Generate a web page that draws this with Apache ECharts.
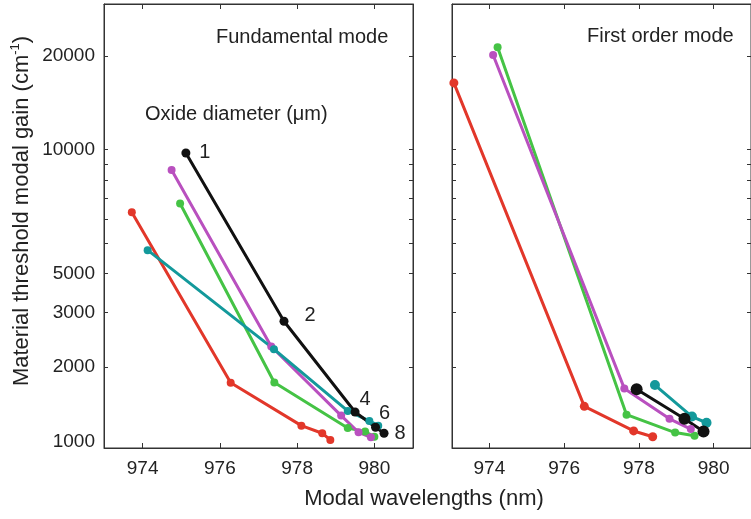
<!DOCTYPE html>
<html>
<head>
<meta charset="utf-8">
<script src="https://cdn.jsdelivr.net/npm/echarts@6/dist/echarts.min.js"></script>
<style>
html, body { margin: 0; padding: 0; background: #fff; }
#main { width: 751px; height: 519px; }
</style>
</head>
<body>
<div id="main"></div>
<script>
// oxide diameters (um) labelled on the black curve
var oxideDiameters = [1, 2, 4, 6, 8];

// fundamental mode: [wavelength (nm), threshold gain (cm-1)]
var fundRed     = [[973.72, 6300], [976.28, 1784], [978.11, 1298], [978.65, 1227], [978.86, 1168]];
var fundGreen   = [[974.97, 6715], [977.41, 1787], [979.31, 1276], [979.76, 1242], [980.00, 1196]];
var fundMagenta = [[974.75, 8610], [977.33, 2331], [979.14, 1398], [979.59, 1236], [979.91, 1191]];
var fundTeal    = [[974.13, 4755], [977.40, 2286], [979.31, 1447], [979.87, 1344], [980.10, 1298]];
var fundBlack   = [[975.12, 9760], [977.66, 2810], [979.50, 1436], [980.03, 1283], [980.25, 1227]];

// first order mode
var firstRed     = [[973.05, 16400], [976.54, 1497], [977.86, 1248], [978.37, 1196]];
var firstGreen   = [[974.22, 21340], [977.67, 1408], [978.97, 1233], [979.49, 1205]];
var firstMagenta = [[974.10, 20160], [977.61, 1710], [978.82, 1365], [979.39, 1265]];
var firstTeal    = [[978.43, 1753], [979.42, 1388], [979.81, 1326]];
var firstBlack   = [[977.94, 1700], [979.22, 1365], [979.73, 1242]];

var xTicks = [974, 976, 978, 980];
var yTicks = [2000, 3000, 4000, 5000, 6000, 7000, 8000, 9000, 10000, 20000];
var yLabelValues = [1150, 2000, 3000, 4000, 10000, 20000];
var yLabelTexts  = ['1000', '2000', '3000', '5000', '10000', '20000'];

var colors = {
    red: '#e2372a',
    green: '#45c345',
    magenta: '#b950bf',
    teal: '#13999b',
    black: '#111111'
};

var FONT = 'Liberation Sans, Arial, sans-serif';
var AXIS_COLOR = '#333';
var TEXT_COLOR = '#222';

function xAxisFor(grid, pos, labels) {
    return {
        type: 'value', gridIndex: grid, position: pos,
        min: 973, max: 981,
        axisLine: { show: true, onZero: false, lineStyle: { color: AXIS_COLOR, width: 1 } },
        axisTick: { show: true, inside: true, length: 5, customValues: xTicks, lineStyle: { color: AXIS_COLOR } },
        axisLabel: { show: labels, customValues: xTicks, fontSize: 19, color: TEXT_COLOR, fontFamily: FONT, margin: 11 },
        splitLine: { show: false }
    };
}

function yAxisFor(grid, pos, labels) {
    return {
        type: 'log', logBase: 10, gridIndex: grid, position: pos,
        min: 1100, max: 29400,
        axisLine: { show: true, lineStyle: { color: AXIS_COLOR, width: 1 } },
        axisTick: { show: true, inside: true, length: 4, customValues: yTicks, lineStyle: { color: AXIS_COLOR } },
        axisLabel: {
            show: labels, customValues: yLabelValues, fontSize: 19, color: TEXT_COLOR, fontFamily: FONT, margin: 9,
            formatter: function (v) {
                var i = yLabelValues.indexOf(Math.round(v));
                return i >= 0 ? yLabelTexts[i] : '';
            }
        },
        splitLine: { show: false }
    };
}

function lineSeries(name, data, color, axisIdx, size) {
    return {
        name: name, type: 'line', xAxisIndex: axisIdx, yAxisIndex: axisIdx,
        data: data, symbol: 'circle', symbolSize: size || 8,
        lineStyle: { color: color, width: 3 },
        itemStyle: { color: color },
        z: 2, animation: false
    };
}

var labelOffsets = [[19, -1], [26, -6], [10, -12], [9, -14], [16, 0]];
var blackFund = lineSeries('fund-black', fundBlack.map(function (p, i) {
    return {
        value: p,
        label: {
            show: true, position: 'inside', offset: labelOffsets[i],
            formatter: String(oxideDiameters[i]), fontSize: 20, color: TEXT_COLOR, fontFamily: FONT
        }
    };
}), colors.black, 0, 9);

var option = {
    backgroundColor: '#fff',
    animation: false,
    grid: [
        { left: 104, top: 4, width: 309, height: 444, show: true, borderColor: AXIS_COLOR, borderWidth: 1 },
        { left: 452, top: 4, width: 309, height: 444, show: true, borderColor: AXIS_COLOR, borderWidth: 1 }
    ],
    xAxis: [xAxisFor(0, 'bottom', true), xAxisFor(1, 'bottom', true), xAxisFor(0, 'top', false), xAxisFor(1, 'top', false)],
    yAxis: [yAxisFor(0, 'left', true), yAxisFor(1, 'left', false), yAxisFor(0, 'right', false), yAxisFor(1, 'right', false)],
    series: [
        lineSeries('fund-red', fundRed, colors.red, 0),
        lineSeries('fund-green', fundGreen, colors.green, 0),
        lineSeries('fund-magenta', fundMagenta, colors.magenta, 0),
        lineSeries('fund-teal', fundTeal, colors.teal, 0),
        blackFund,
        lineSeries('first-red', firstRed, colors.red, 1, 9),
        lineSeries('first-green', firstGreen, colors.green, 1),
        lineSeries('first-magenta', firstMagenta, colors.magenta, 1),
        lineSeries('first-teal', firstTeal, colors.teal, 1, 10),
        lineSeries('first-black', firstBlack, colors.black, 1, 12)
    ],
    graphic: [
        { type: 'text', left: 216, top: 27, style: { text: 'Fundamental mode', fontSize: 20, fill: TEXT_COLOR, fontFamily: FONT } },
        { type: 'text', left: 145, top: 104, style: { text: 'Oxide diameter (\u03bcm)', fontSize: 20, fill: TEXT_COLOR, fontFamily: FONT } },
        { type: 'text', left: 587, top: 26, style: { text: 'First order mode', fontSize: 20, fill: TEXT_COLOR, fontFamily: FONT } },
        {
            type: 'text', x: 424, y: 499,
            style: { text: 'Modal wavelengths (nm)', fontSize: 22, fill: TEXT_COLOR, fontFamily: FONT, align: 'center', verticalAlign: 'middle' }
        },
        {
            type: 'text', x: 22, y: 211, rotation: Math.PI / 2,
            style: {
                text: 'Material threshold modal gain (cm{sup|-1})',
                fontSize: 22, fill: TEXT_COLOR, fontFamily: FONT, align: 'center', verticalAlign: 'middle', lineHeight: 26,
                rich: { sup: { fontSize: 13, fill: TEXT_COLOR, fontFamily: FONT, verticalAlign: 'top', lineHeight: 26 } }
            }
        }
    ]
};

var chart = echarts.init(document.getElementById('main'));
chart.setOption(option);
</script>
</body>
</html>
